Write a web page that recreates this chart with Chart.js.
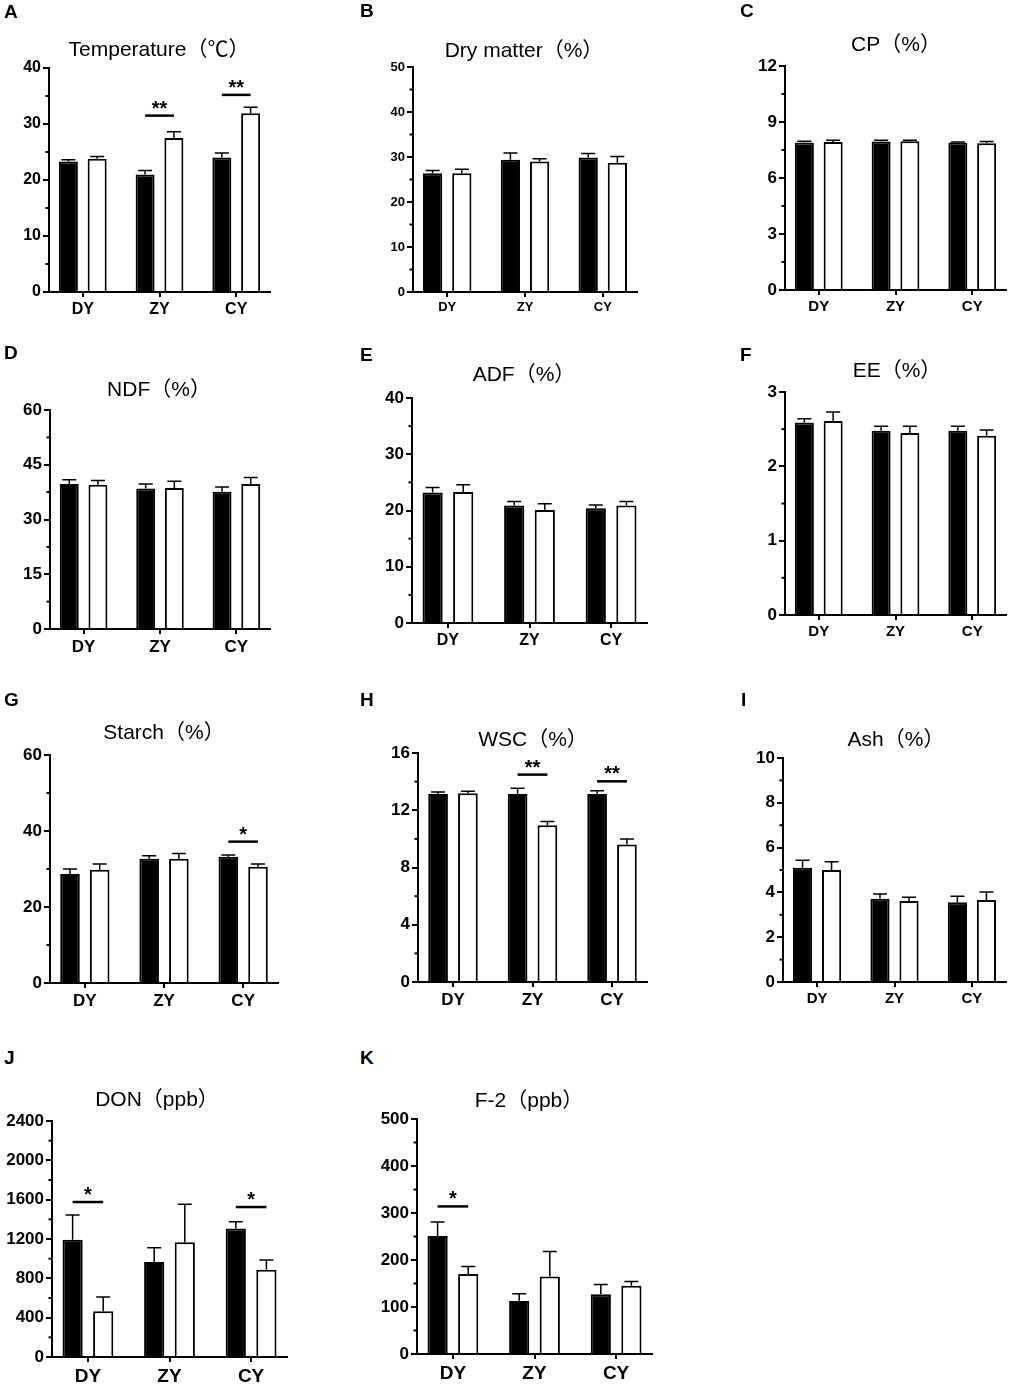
<!DOCTYPE html>
<html>
<head>
<meta charset="utf-8">
<script src="https://cdn.jsdelivr.net/npm/chart.js@4.4.1/dist/chart.umd.min.js"></script>
<style>
  body { margin: 0; width: 1013px; height: 1385px; overflow: hidden; background: #fff; position: relative;
         font-family: "Liberation Sans", Arial, "Noto Sans CJK SC", sans-serif; }
  canvas { position: absolute; }
  .ttl { position: absolute; font-size: 21px; color: #000; white-space: nowrap; transform: translate(-50%, -50%); }
  .let { position: absolute; font-size: 19px; font-weight: bold; color: #000; transform: translateY(-50%); }
</style>
</head>
<body>
<script>
const groups = ['DY', 'ZY', 'CY'];

// A - temperature
const tempBlack = [23.3, 21.0, 24.0];
const tempBlackErr = [0.3, 0.7, 0.8];
const tempWhite = [23.8, 27.5, 31.9];
const tempWhiteErr = [0.4, 1.1, 1.1];
const tempSig = ['', '**', '**'];
const tempSigAt = [null, 31.5, 35.2];

// B - dry matter
const dmBlack = [26.4, 29.4, 29.9];
const dmBlackErr = [0.6, 1.5, 0.9];
const dmWhite = [26.4, 29.0, 28.7];
const dmWhiteErr = [0.9, 0.6, 1.4];

// C - CP
const cpBlack = [7.90, 7.95, 7.90];
const cpBlackErr = [0.07, 0.07, 0.03];
const cpWhite = [7.93, 7.97, 7.86];
const cpWhiteErr = [0.09, 0.05, 0.09];

// D - NDF
const ndfBlack = [39.7, 38.5, 37.6];
const ndfBlackErr = [1.2, 1.2, 1.3];
const ndfWhite = [39.5, 38.6, 39.7];
const ndfWhiteErr = [1.2, 1.9, 1.8];

// E - ADF
const adfBlack = [23.2, 20.9, 20.4];
const adfBlackErr = [0.9, 0.7, 0.6];
const adfWhite = [23.3, 20.1, 20.9];
const adfWhiteErr = [1.3, 1.1, 0.7];

// F - EE
const eeBlack = [2.59, 2.48, 2.48];
const eeBlackErr = [0.05, 0.06, 0.06];
const eeWhite = [2.61, 2.45, 2.41];
const eeWhiteErr = [0.12, 0.09, 0.08];

// G - starch
const starchBlack = [28.7, 32.7, 33.2];
const starchBlackErr = [1.3, 0.8, 0.5];
const starchWhite = [29.8, 32.7, 30.6];
const starchWhiteErr = [1.5, 1.4, 0.7];
const starchSig = ['', '', '*'];
const starchSigAt = [null, null, 37.2];

// H - WSC
const wscBlack = [13.13, 13.13, 13.13];
const wscBlackErr = [0.14, 0.40, 0.24];
const wscWhite = [13.18, 10.95, 9.6];
const wscWhiteErr = [0.14, 0.27, 0.39];
const wscSig = ['', '**', '**'];
const wscSigAt = [null, 14.49, 14.02];

// I - ash
const ashBlack = [5.10, 3.72, 3.56];
const ashBlackErr = [0.33, 0.21, 0.27];
const ashWhite = [5.00, 3.62, 3.66];
const ashWhiteErr = [0.37, 0.16, 0.36];

// J - DON
const donBlack = [1193, 966, 1308];
const donBlackErr = [251, 146, 68];
const donWhite = [464, 1166, 888];
const donWhiteErr = [146, 387, 98];
const donSig = ['*', '', '*'];
const donSigAt = [1576, null, 1525];

// K - F-2
const f2Black = [251, 113, 127];
const f2BlackErr = [30, 15, 21];
const f2White = [170, 165, 145];
const f2WhiteErr = [16, 53, 9];
const f2Sig = ['*', '', ''];
const f2SigAt = [314, null, null];

const noSig = ['', '', ''];
const noSigAt = [null, null, null];

// panels: data + axis ranges
const panels = [
  {letter: 'A', title: 'Temperature（℃）', max: 40, step: 10, black: tempBlack, blackErr: tempBlackErr, white: tempWhite, whiteErr: tempWhiteErr, sig: tempSig, sigAt: tempSigAt},
  {letter: 'B', title: 'Dry matter（%）', max: 50, step: 10, black: dmBlack, blackErr: dmBlackErr, white: dmWhite, whiteErr: dmWhiteErr, sig: noSig, sigAt: noSigAt},
  {letter: 'C', title: 'CP（%）', max: 12, step: 3, black: cpBlack, blackErr: cpBlackErr, white: cpWhite, whiteErr: cpWhiteErr, sig: noSig, sigAt: noSigAt},
  {letter: 'D', title: 'NDF（%）', max: 60, step: 15, black: ndfBlack, blackErr: ndfBlackErr, white: ndfWhite, whiteErr: ndfWhiteErr, sig: noSig, sigAt: noSigAt},
  {letter: 'E', title: 'ADF（%）', max: 40, step: 10, black: adfBlack, blackErr: adfBlackErr, white: adfWhite, whiteErr: adfWhiteErr, sig: noSig, sigAt: noSigAt},
  {letter: 'F', title: 'EE（%）', max: 3, step: 1, black: eeBlack, blackErr: eeBlackErr, white: eeWhite, whiteErr: eeWhiteErr, sig: noSig, sigAt: noSigAt},
  {letter: 'G', title: 'Starch（%）', max: 60, step: 20, black: starchBlack, blackErr: starchBlackErr, white: starchWhite, whiteErr: starchWhiteErr, sig: starchSig, sigAt: starchSigAt},
  {letter: 'H', title: 'WSC（%）', max: 16, step: 4, black: wscBlack, blackErr: wscBlackErr, white: wscWhite, whiteErr: wscWhiteErr, sig: wscSig, sigAt: wscSigAt},
  {letter: 'I', title: 'Ash（%）', max: 10, step: 2, black: ashBlack, blackErr: ashBlackErr, white: ashWhite, whiteErr: ashWhiteErr, sig: noSig, sigAt: noSigAt},
  {letter: 'J', title: 'DON（ppb）', max: 2400, step: 400, black: donBlack, blackErr: donBlackErr, white: donWhite, whiteErr: donWhiteErr, sig: donSig, sigAt: donSigAt},
  {letter: 'K', title: 'F-2（ppb）', max: 500, step: 100, black: f2Black, blackErr: f2BlackErr, white: f2White, whiteErr: f2WhiteErr, sig: f2Sig, sigAt: f2SigAt}
];

// where each panel sits on the page (axis box, title centre, letter spot, tick fonts)
const boxes = [
  {l: 49,  t: 68,   b: 292,  r: 270,  tx: 159, ty: 47,   lx: 4,   ly: 12,   yf: 16, xf: 16},
  {l: 413, t: 67,   b: 292,  r: 637,  tx: 524, ty: 48,   lx: 360, ly: 11,   yf: 13, xf: 13},
  {l: 785, t: 66,   b: 290,  r: 1006, tx: 896, ty: 42,   lx: 740, ly: 11,   yf: 17, xf: 15},
  {l: 50,  t: 410,  b: 629,  r: 270,  tx: 159, ty: 387,  lx: 4,   ly: 353,  yf: 17, xf: 17},
  {l: 412, t: 398,  b: 623,  r: 647,  tx: 524, ty: 372,  lx: 360, ly: 355,  yf: 17, xf: 16},
  {l: 785, t: 392,  b: 615,  r: 1006, tx: 897, ty: 368,  lx: 740, ly: 355,  yf: 17, xf: 15},
  {l: 50,  t: 755,  b: 983,  r: 278,  tx: 164, ty: 730,  lx: 4,   ly: 700,  yf: 17, xf: 17},
  {l: 418, t: 753,  b: 982,  r: 647,  tx: 533, ty: 737,  lx: 360, ly: 700,  yf: 17, xf: 17},
  {l: 783, t: 758,  b: 982,  r: 1006, tx: 896, ty: 737,  lx: 741, ly: 700,  yf: 17, xf: 15},
  {l: 52,  t: 1121, b: 1357, r: 287,  tx: 157, ty: 1097, lx: 4,   ly: 1058, yf: 17, xf: 19},
  {l: 417, t: 1119, b: 1354, r: 652,  tx: 529, ty: 1098, lx: 360, ly: 1058, yf: 17, xf: 19}
];

const padL = 52, padT = 24, padR = 6, padB = 36;

function extras(p) {
  return {
    id: 'extras',
    afterDatasetsDraw(chart) {
      const ctx = chart.ctx;
      const ys = chart.scales.y;
      const area = chart.chartArea;
      ctx.save();
      ctx.strokeStyle = '#000';
      ctx.fillStyle = '#000';
      // error bars (upper half only)
      [p.blackErr, p.whiteErr].forEach((errs, d) => {
        const vals = d === 0 ? p.black : p.white;
        chart.getDatasetMeta(d).data.forEach((el, i) => {
          const top = ys.getPixelForValue(vals[i] + errs[i]);
          ctx.lineWidth = 1.5;
          ctx.beginPath();
          ctx.moveTo(el.x, el.y);
          ctx.lineTo(el.x, top);
          ctx.moveTo(el.x - 7, top);
          ctx.lineTo(el.x + 7, top);
          ctx.stroke();
        });
      });
      // axis line over the bar bottoms
      ctx.lineWidth = 2;
      ctx.beginPath();
      ctx.moveTo(area.left - 1, area.bottom);
      ctx.lineTo(area.right, area.bottom);
      ctx.stroke();
      // minor ticks on y
      const ticks = ys.ticks;
      for (let i = 0; i < ticks.length - 1; i++) {
        const py = ys.getPixelForValue((ticks[i].value + ticks[i + 1].value) / 2);
        ctx.beginPath();
        ctx.moveTo(area.left - 3.5, py);
        ctx.lineTo(area.left, py);
        ctx.stroke();
      }
      // significance marks
      const m0 = chart.getDatasetMeta(0).data, m1 = chart.getDatasetMeta(1).data;
      p.sig.forEach((s, i) => {
        if (!s) return;
        const py = ys.getPixelForValue(p.sigAt[i]);
        ctx.lineWidth = 2.5;
        ctx.beginPath();
        ctx.moveTo(m0[i].x, py);
        ctx.lineTo(m1[i].x, py);
        ctx.stroke();
        ctx.font = 'bold 20px "Liberation Sans", Arial, sans-serif';
        ctx.textAlign = 'center';
        ctx.textBaseline = 'alphabetic';
        ctx.fillText(s, (m0[i].x + m1[i].x) / 2, py - 1);
      });
      ctx.restore();
    }
  };
}

panels.forEach((p, k) => {
  const box = boxes[k];
  const x0 = box.l - padL, y0 = box.t - padT;
  const w = box.r + padR - x0, h = box.b + padB - y0;

  const canvas = document.createElement('canvas');
  canvas.width = w;
  canvas.height = h;
  canvas.style.left = x0 + 'px';
  canvas.style.top = y0 + 'px';
  canvas.style.width = w + 'px';
  canvas.style.height = h + 'px';
  document.body.appendChild(canvas);

  const title = document.createElement('div');
  title.className = 'ttl';
  title.textContent = p.title;
  title.style.left = box.tx + 'px';
  title.style.top = box.ty + 'px';
  document.body.appendChild(title);

  const letter = document.createElement('div');
  letter.className = 'let';
  letter.textContent = p.letter;
  letter.style.left = box.lx + 'px';
  letter.style.top = box.ly + 'px';
  document.body.appendChild(letter);

  const fam = '"Liberation Sans", Arial, sans-serif';
  const barStyle = {borderColor: '#000', borderWidth: 2, borderSkipped: 'start', categoryPercentage: 0.75, barPercentage: 0.66};

  new Chart(canvas, {
    type: 'bar',
    data: {
      datasets: [
        Object.assign({label: 'black', data: p.black.map((v, i) => ({x: i, y: v})), backgroundColor: '#000'}, barStyle),
        Object.assign({label: 'white', data: p.white.map((v, i) => ({x: i, y: v})), backgroundColor: '#fff'}, barStyle)
      ]
    },
    options: {
      responsive: false,
      animation: false,
      layout: {padding: {top: padT, right: padR, left: 0, bottom: 0}},
      plugins: {legend: {display: false}, tooltip: {enabled: false}},
      scales: {
        x: {
          type: 'linear', min: -0.44, max: 2.44, offset: false,
          afterFit: s => { s.height = padB; },
          grid: {offset: false, drawOnChartArea: false, tickLength: 5, color: '#000', lineWidth: 2},
          border: {color: '#000', width: 2},
          ticks: {stepSize: 1, includeBounds: false, autoSkip: false, maxRotation: 0, padding: 3, color: '#000',
                  font: {family: fam, size: box.xf, weight: 'bold'},
                  callback: v => groups[v] ?? ''}
        },
        y: {
          min: 0, max: p.max,
          afterFit: s => { s.width = padL; },
          grid: {drawOnChartArea: false, tickLength: 6, color: '#000', lineWidth: 2},
          border: {color: '#000', width: 2},
          ticks: {stepSize: p.step, padding: 2, color: '#000',
                  font: {family: fam, size: box.yf, weight: 'bold'},
                  callback: v => String(v)}
        }
      }
    },
    plugins: [extras(p)]
  });
});
</script>
</body>
</html>
